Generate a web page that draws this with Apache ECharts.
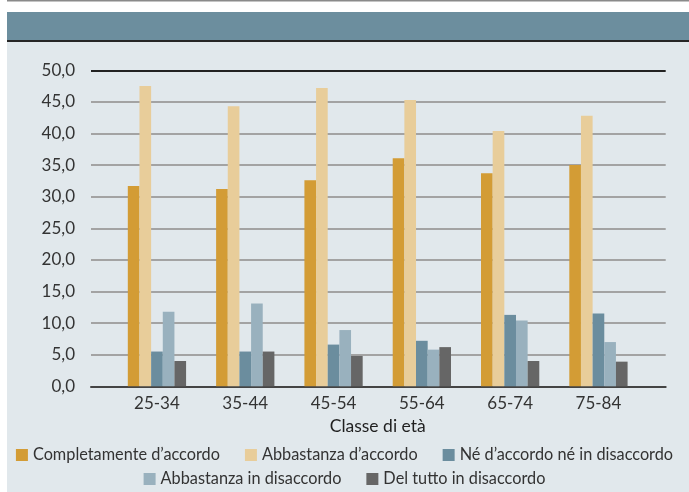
<!DOCTYPE html>
<html>
<head>
<meta charset="utf-8">
<script src="https://cdn.jsdelivr.net/npm/echarts@6/dist/echarts.min.js"></script>
<style>
html,body{margin:0;padding:0;background:#fff;}
#c{width:689px;height:492px;}
</style>
</head>
<body>
<div id="c"></div>
<script>
var categories = ['25-34', '35-44', '45-54', '55-64', '65-74', '75-84'];
var seriesNames = ['Completamente d\u2019accordo', 'Abbastanza d\u2019accordo', 'N\u00e9 d\u2019accordo n\u00e9 in disaccordo', 'Abbastanza in disaccordo', 'Del tutto in disaccordo'];
var completamente = [31.7, 31.2, 32.6, 36.1, 33.7, 35.0];
var abbastanzaAccordo = [47.5, 44.3, 47.2, 45.3, 40.4, 42.8];
var neNe = [5.5, 5.5, 6.6, 7.2, 11.3, 11.5];
var abbastanzaDisaccordo = [11.8, 13.1, 8.9, 5.8, 10.4, 7.0];
var delTutto = [4.0, 5.5, 4.8, 6.2, 4.0, 3.9];
var yTicks = [0, 5, 10, 15, 20, 25, 30, 35, 40, 45, 50];

var colors = ['#D39C35', '#E8CD9A', '#6B8D9E', '#99B1BE', '#666666'];
var FONT = 'Lato, "Noto Sans", sans-serif';
var seriesData = [completamente, abbastanzaAccordo, neNe, abbastanzaDisaccordo, delTutto];

var chart = echarts.init(document.getElementById('c'), null, {renderer: 'canvas'});

var gridTop = 70.3, gridBottom = 492 - 386.3;

var splitColors = yTicks.map(function (t, i) {
  return i === yTicks.length - 1 ? '#222222' : '#A3A3A3';
});

var series = seriesData.map(function (d, i) {
  return {
    name: seriesNames[i],
    type: 'bar',
    xAxisIndex: 1,
    yAxisIndex: 1,
    data: d,
    barGap: '0%',
    barCategoryGap: '34%',
    itemStyle: {color: colors[i]},
    silent: true
  };
});

var legendText = {fontFamily: FONT, fontSize: 16.3, color: '#333333'};

var option = {
  backgroundColor: '#ffffff',
  animation: false,
  textStyle: {fontFamily: FONT},
  graphic: [
    {type: 'rect', shape: {x: 7, y: 0, width: 682, height: 1.5}, style: {fill: '#8a8a8a'}, z: -10},
    {type: 'rect', shape: {x: 7, y: 12, width: 682, height: 480}, style: {fill: '#E1E8EC'}, z: -10},
    {type: 'rect', shape: {x: 7, y: 12, width: 682, height: 28}, style: {fill: '#6C8E9E'}, z: -9},
    {type: 'rect', shape: {x: 7, y: 40, width: 682, height: 2}, style: {fill: '#262626'}, z: -9}
  ],
  legend: [
    {
      data: seriesNames.slice(0, 3),
      left: 'center',
      top: 442,
      icon: 'rect',
      itemWidth: 12,
      itemHeight: 12,
      itemGap: 25,
      textStyle: legendText,
      selectedMode: false
    },
    {
      data: seriesNames.slice(3),
      left: 'center',
      top: 466,
      icon: 'rect',
      itemWidth: 12,
      itemHeight: 12,
      itemGap: 25,
      textStyle: legendText,
      selectedMode: false
    }
  ],
  grid: [
    {left: 91, right: 689 - 665.7, top: gridTop, bottom: gridBottom, containLabel: false},
    {left: 112.8, right: 689 - 642.6, top: gridTop, bottom: gridBottom, containLabel: false}
  ],
  xAxis: [
    {
      type: 'value', gridIndex: 0, min: 0, max: 1,
      axisLine: {show: true, onZero: false, lineStyle: {color: '#444444', width: 2}},
      axisTick: {show: false}, axisLabel: {show: false}, splitLine: {show: false}
    },
    {
      type: 'category', gridIndex: 1, data: categories,
      axisLine: {show: false}, axisTick: {show: false},
      axisLabel: {fontFamily: FONT, fontSize: 17, color: '#333333', margin: 9},
      name: 'Classe di et\u00e0',
      nameLocation: 'middle',
      nameGap: 28,
      nameTextStyle: {fontFamily: FONT, fontSize: 17.5, color: '#1f1f1f'}
    }
  ],
  yAxis: [
    {
      type: 'value', gridIndex: 0, min: 0, max: 50, interval: 5,
      axisLine: {show: false}, axisTick: {show: false},
      axisLabel: {
        fontFamily: FONT, fontSize: 17, color: '#333333', margin: 16,
        formatter: function (v) { return v.toFixed(1).replace('.', ','); }
      },
      splitLine: {show: true, lineStyle: {color: splitColors, width: 2}}
    },
    {
      type: 'value', gridIndex: 1, min: 0, max: 50, interval: 5,
      show: false, splitLine: {show: false}
    }
  ],
  series: series
};

chart.setOption(option);
</script>
</body>
</html>
